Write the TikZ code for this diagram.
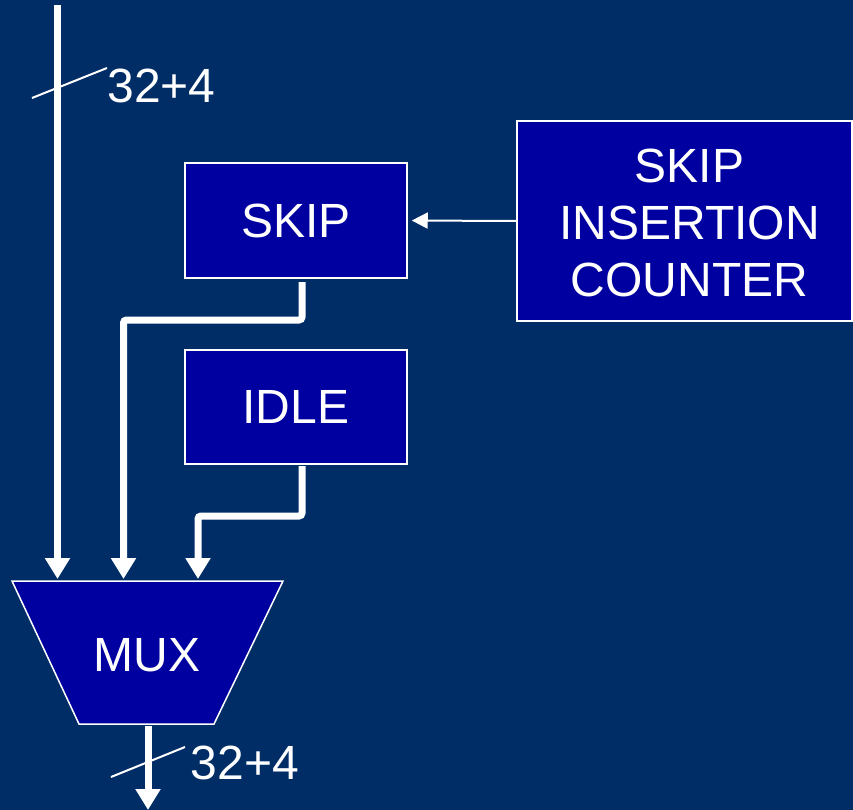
\documentclass[tikz,border=0pt]{standalone}
\usepackage{fontspec}
\setmainfont{Liberation Sans}
\usetikzlibrary{arrows.meta}
\definecolor{bg}{RGB}{0,45,102}
\definecolor{boxblue}{RGB}{0,0,160}
\begin{document}
\begin{tikzpicture}[x=1pt,y=-1pt,
  box/.style={draw=white, line width=1.5pt, fill=boxblue, text=white,
    font=\fontsize{48}{57}\selectfont, align=center, inner sep=0pt},
  bus/.style={draw=white, line width=7pt, rounded corners=3pt,
    -{Triangle[width=24pt,length=21pt]}},
  ctrl/.style={draw=white, line width=2pt, -{Triangle[width=16pt,length=16pt]}},
  slash/.style={draw=white, line width=2pt},
  lbl/.style={text=white, font=\fontsize{48}{57}\selectfont, inner sep=0pt, align=center}]
\fill[bg] (0,0) rectangle (853,810);
\useasboundingbox (0,0) rectangle (853,810);

% blocks
\node[box, minimum width=222pt, minimum height=115pt] (skip) at (296,220.5) {SKIP};
\node[box, minimum width=335pt, minimum height=200pt] (counter) at (684.5,221) {};
\node[lbl] (countertext) at (689.5,222.5) {SKIP\\INSERTION\\COUNTER};
\node[box, minimum width=222pt, minimum height=114pt] (idle) at (296,407) {IDLE};

% MUX trapezoid
\draw[white, line width=1.5pt, fill=boxblue] (12,581) -- (283,581) -- (214,724) -- (79,724) -- cycle;
\node[lbl] (mux) at (147,655) {MUX};

% coordinates
\coordinate (inTop) at (57.5,5);
\coordinate (mIn1) at (57.5,579);
\coordinate (skipOut) at (302,282);
\coordinate (mIn2) at (123.5,579);
\coordinate (idleOut) at (302,466);
\coordinate (mIn3) at (198,579);
\coordinate (muxOut) at (148,726);
\coordinate (outEnd) at (148,810);

% buses
\draw[bus] (inTop) -- (mIn1);
\draw[bus] (skipOut) |- (123.5,320) -- (mIn2);
\draw[bus] (idleOut) |- (198,516) -- (mIn3);
\draw[bus] (muxOut) -- (outEnd);

% control arrow
\draw[ctrl, shorten >=4pt] (counter.west) -- (skip.east);

% bus width marks
\draw[slash] (32,98) -- (107,68);
\node[lbl] (w1) at (161.5,86) {32+4};
\draw[slash] (111,777) -- (185,747);
\node[lbl] (w2) at (245,763) {32+4};
\end{tikzpicture}
\end{document}
